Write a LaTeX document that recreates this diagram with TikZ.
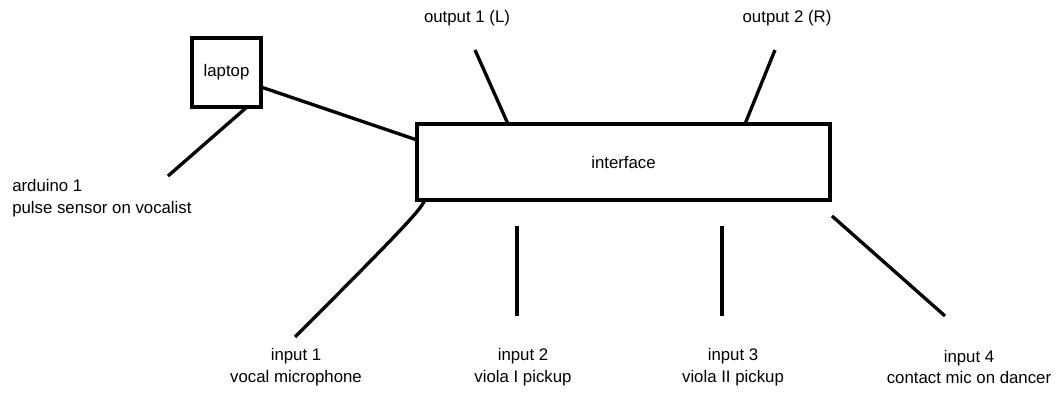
\documentclass[tikz,border=0pt]{standalone}
\usepackage{fontspec}
\setmainfont{Liberation Sans}
\begin{document}
\begin{tikzpicture}[x=0.75pt,y=-0.75pt,
  box/.style={draw,line width=3pt,inner sep=0pt},
  wire/.style={line width=2.5pt},
  lbl/.style={font=\fontsize{12.6}{16}\selectfont,align=center,inner sep=0pt},
  lbll/.style={font=\fontsize{12.6}{16}\selectfont,align=left,inner sep=0pt,anchor=west}]
\useasboundingbox (0,0) rectangle (1059,402);
% boxes
\node[box,minimum width=51.75pt,minimum height=51.75pt,font=\fontsize{12.6}{16}\selectfont] (laptop) at (226.5,72.5) {laptop};
\node[box,minimum width=309.75pt,minimum height=57pt,font=\fontsize{12.6}{16}\selectfont] (iface) at (623.5,162) {interface};
% connector end points
\coordinate (lpA) at (261,87);
\coordinate (ifA) at (417,140);
\coordinate (lpB) at (247,107);
\coordinate (ard) at (168,176);
\coordinate (o1a) at (508,124);
\coordinate (o1b) at (475,50);
\coordinate (o2a) at (745,124);
\coordinate (o2b) at (775,50);
\coordinate (i1a) at (425,200);
\coordinate (i1b) at (295,337);
\coordinate (i2a) at (517,226);
\coordinate (i2b) at (517,316);
\coordinate (i3a) at (722,226);
\coordinate (i3b) at (722,316);
\coordinate (i4a) at (832,216);
\coordinate (i4b) at (945,316);
% connectors
\draw[wire] (lpA) -- (ifA);
\draw[wire] (lpB) -- (ard);
\draw[wire] (o1a) -- (o1b);
\draw[wire] (o2a) -- (o2b);
\draw[wire] (i1a) .. controls (419,211) and (412,220) .. (i1b);
\draw[wire] (i2a) -- (i2b);
\draw[wire] (i3a) -- (i3b);
\draw[wire] (i4a) -- (i4b);
% labels
\node[lbl] (lo1) at (467,18) {output 1 (L)};
\node[lbl] (lo2) at (787,18) {output 2 (R)};
\node[lbll] (lard) at (12,198) {arduino 1\\pulse sensor on vocalist};
\node[lbl] (li1) at (296,367) {input 1\\vocal microphone};
\node[lbl] (li2) at (523,367) {input 2\\viola I pickup};
\node[lbl] (li3) at (733,367) {input 3\\viola II pickup};
\node[lbl] (li4) at (969,367) {input 4\\contact mic on dancer};
\end{tikzpicture}
\end{document}
